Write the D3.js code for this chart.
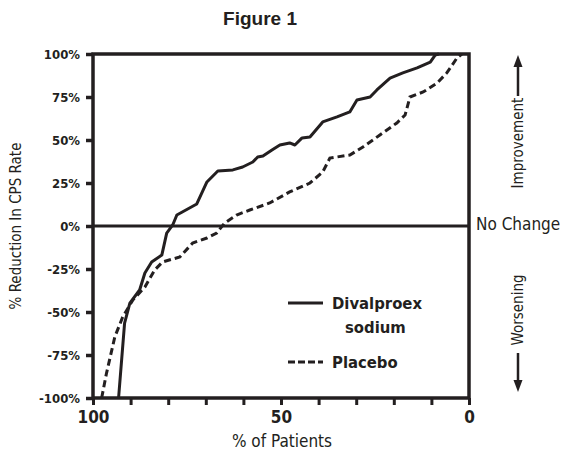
<!DOCTYPE html>
<html><head><meta charset="utf-8">
<script src="https://cdn.jsdelivr.net/npm/d3@7/dist/d3.min.js"></script>
<style>
body{margin:0;background:#fff;}
svg{display:block;}
text{font-family:"Liberation Sans Narrow","DejaVu Sans Condensed","Arial Narrow",sans-serif;fill:#231f20;}
</style></head>
<body><svg id="c" width="567" height="459"></svg>
<script>
// Data: x = % of patients, y = % reduction in CPS rate
const divalproexX = [93.2,91.6,90.2,87.6,86.2,84.4,81.7,80.4,78.8,77.7,72.4,69.7,66.8,62.8,60.2,57.5,56.2,54.8,52.4,50.3,47.7,46.3,44.4,42.3,38.9,35.1,31.7,29.8,26.3,24.5,21.0,17.6,13.8,10.3,9.0,8.0];
const divalproexY = [-100,-56.4,-44.8,-37.2,-27.3,-20.9,-16.9,-4.1,0.6,6.4,12.8,25.6,32.0,32.6,34.3,37.2,40.1,40.7,44.2,47.1,48.3,47.1,51.2,51.7,60.5,63.4,66.3,73.3,75.0,79.1,86.0,89.0,91.9,95.3,99.4,100];
const placeboX = [97.7,96.4,94.2,92.1,89.4,86.2,83.6,81.5,76.9,73.5,69.7,67.1,65.0,61.8,58.3,53.0,47.7,42.3,38.9,37.0,31.7,28.2,23.7,19.2,17.0,15.7,12.2,8.5,5.9,3.2,1.9];
const placeboY = [-100,-85.5,-64.5,-52.9,-43.0,-35.5,-25.6,-20.9,-18.0,-9.9,-7.0,-4.1,1.7,6.4,9.3,13.4,19.8,25.0,31.4,39.5,41.3,45.9,52.9,59.9,64.5,75.0,77.9,83.1,89.0,97.7,100];
const yTicks = [-100,-75,-50,-25,0,25,50,75,100];
const xTicks = [100,90,80,70,60,50,40,30,20,10,0];
const xLabels = [100,50,0];
const seriesNames = ["Divalproex", "sodium", "Placebo"];

const ink = "#231f20";
const svg = d3.select("#c");
const L=93, R=469, T=54, B=398;
const x = d3.scaleLinear().domain([100,0]).range([L,R]);
const y = d3.scaleLinear().domain([-100,100]).range([B,T]);

// title
svg.append("text").attr("x",260).attr("y",25).attr("text-anchor","middle")
  .style("font-family","'Liberation Sans','Arial',sans-serif")
  .style("font-weight","bold").style("font-size","19px").text("Figure 1");

// y axis
const ya = svg.append("g").attr("transform",`translate(${L},0)`)
  .call(d3.axisLeft(y).tickValues(yTicks).tickSize(7).tickPadding(6).tickFormat(d=>d+"%"));
ya.select(".domain").remove();
ya.selectAll(".tick line").attr("stroke",ink).attr("stroke-width",3.5);
ya.selectAll(".tick text").style("font-size","13px").style("font-weight","bold").attr("fill",ink);

// x axis
const xa = svg.append("g").attr("transform",`translate(0,${B})`)
  .call(d3.axisBottom(x).tickValues(xTicks).tickSize(7).tickPadding(6)
    .tickFormat(d=>xLabels.includes(d)?d:""));
xa.select(".domain").remove();
xa.selectAll(".tick line").attr("stroke",ink).attr("stroke-width",3);
xa.selectAll(".tick text").style("font-size","17px").style("font-weight","bold").attr("fill",ink);

// frame
svg.append("rect").attr("x",L).attr("y",T).attr("width",R-L).attr("height",B-T)
  .attr("fill","none").attr("stroke",ink).attr("stroke-width",3.5);
// zero line
svg.append("line").attr("x1",L).attr("x2",R).attr("y1",y(0)).attr("y2",y(0))
  .attr("stroke",ink).attr("stroke-width",3);

// curves
const line = d3.line().x(d=>x(d[0])).y(d=>y(d[1])).curve(d3.curveLinear);
const dv = divalproexX.map((v,i)=>[v,divalproexY[i]]);
const pl = placeboX.map((v,i)=>[v,placeboY[i]]);
svg.append("path").attr("d",line(pl)).attr("fill","none").attr("stroke",ink)
  .attr("stroke-width",3).attr("stroke-dasharray","7,4");
svg.append("path").attr("d",line(dv)).attr("fill","none").attr("stroke",ink)
  .attr("stroke-width",3).attr("stroke-linejoin","round");

// axis titles
svg.append("text").attr("transform",`translate(21,${y(0)}) rotate(-90)`).attr("text-anchor","middle")
  .style("font-size","15px").text("% Reduction In CPS Rate");
svg.append("text").attr("x",282).attr("y",447).attr("text-anchor","middle")
  .style("font-size","17px").text("% of Patients");

// right annotations
svg.append("text").attr("x",476).attr("y",230).style("font-size","17px").text("No Change");
svg.append("text").attr("transform","translate(523,143) rotate(-90)").attr("text-anchor","middle")
  .style("font-size","15px").text("Improvement");
svg.append("text").attr("transform","translate(523,310) rotate(-90)").attr("text-anchor","middle")
  .style("font-size","15px").text("Worsening");
// arrows
svg.append("line").attr("x1",518).attr("x2",518).attr("y1",96).attr("y2",64).attr("stroke",ink).attr("stroke-width",2.5);
svg.append("path").attr("d","M518,55 L513.5,67 L522.5,67 Z").attr("fill",ink);
svg.append("line").attr("x1",518).attr("x2",518).attr("y1",353).attr("y2",383).attr("stroke",ink).attr("stroke-width",2.5);
svg.append("path").attr("d","M518,392 L513.5,380 L522.5,380 Z").attr("fill",ink);

// legend
svg.append("line").attr("x1",288).attr("x2",323).attr("y1",303).attr("y2",303).attr("stroke",ink).attr("stroke-width",3);
svg.append("line").attr("x1",288).attr("x2",323).attr("y1",362).attr("y2",362).attr("stroke",ink).attr("stroke-width",3).attr("stroke-dasharray","7,3");
const lg = {fs:"16.5px"};
svg.append("text").attr("x",332).attr("y",309).style("font-size",lg.fs).style("font-weight","bold").text(seriesNames[0]);
svg.append("text").attr("x",345).attr("y",333).style("font-size",lg.fs).style("font-weight","bold").text(seriesNames[1]);
svg.append("text").attr("x",332).attr("y",368).style("font-size",lg.fs).style("font-weight","bold").text(seriesNames[2]);
</script></body></html>
